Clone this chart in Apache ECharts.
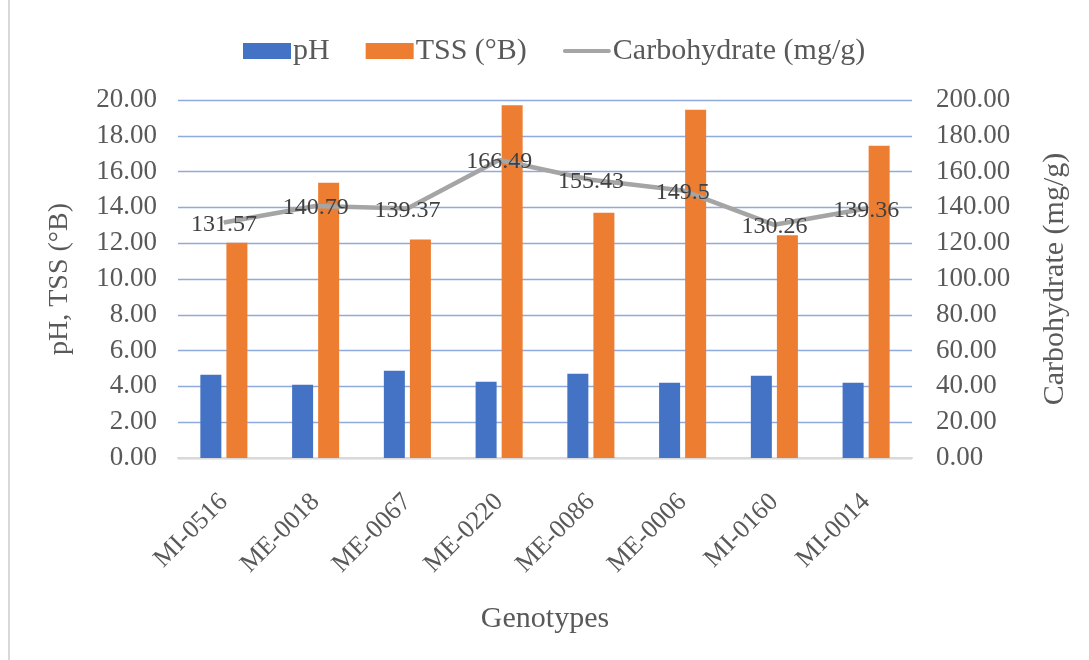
<!DOCTYPE html>
<html>
<head>
<meta charset="utf-8">
<script src="https://cdn.jsdelivr.net/npm/echarts@6/dist/echarts.min.js"></script>
<style>
  html, body { margin: 0; padding: 0; background: #fff; }
  #chart { width: 1089px; height: 660px; }
  .frame { position: absolute; left: 8px; top: 0; width: 2px; height: 660px; background: #d9d9d9; }
</style>
</head>
<body>
<div class="frame"></div>
<div id="chart"></div>
<script>
const genotypes = ['MI-0516', 'ME-0018', 'ME-0067', 'ME-0220', 'ME-0086', 'ME-0006', 'MI-0160', 'MI-0014']
const phValues = [4.65, 4.09, 4.88, 4.26, 4.71, 4.21, 4.60, 4.21]
const tssValues = [12.02, 15.38, 12.20, 19.70, 13.70, 19.46, 12.44, 17.45]
const carbValues = [131.57, 140.79, 139.37, 166.49, 155.43, 149.5, 130.26, 139.36]

const font = 'Liberation Serif, Times New Roman, serif'
const textColor = '#595959'

const chart = echarts.init(document.getElementById('chart'))
chart.setOption({
  textStyle: { fontFamily: font },
  legend: {
    top: 31,
    left: 238,
    itemWidth: 48,
    itemHeight: 16,
    itemGap: 36,
    textStyle: { fontFamily: font, fontSize: 30, color: textColor, padding: [0, 0, 0, -3] },
    data: [
      { name: 'pH', icon: 'rect' },
      { name: 'TSS (°B)', icon: 'rect' },
      { name: 'Carbohydrate (mg/g)', icon: 'path://M2,0 L46,0 A2,2 0 0 1 46,4 L2,4 A2,2 0 0 1 2,0 Z' }
    ]
  },
  grid: { left: 178, right: 177, top: 100, bottom: 202 },
  xAxis: {
    type: 'category',
    data: genotypes,
    name: 'Genotypes',
    nameLocation: 'middle',
    nameGap: 146,
    nameTextStyle: { fontFamily: font, fontSize: 30, color: textColor },
    axisLine: { lineStyle: { color: '#d9d9d9', width: 2 } },
    axisTick: { show: false },
    axisLabel: { rotate: 45, margin: 40, fontFamily: font, fontSize: 26, color: textColor }
  },
  yAxis: [
    {
      type: 'value',
      min: 0,
      max: 20,
      interval: 2,
      name: 'pH, TSS (°B)',
      nameLocation: 'middle',
      nameGap: 104,
      nameTextStyle: { fontFamily: font, fontSize: 28, color: textColor },
      axisLine: { show: false },
      axisTick: { show: false },
      axisLabel: { margin: 21, fontFamily: font, fontSize: 27, color: textColor, formatter: v => v.toFixed(2) },
      splitLine: { lineStyle: { color: '#8faadc', width: 1.3 } }
    },
    {
      type: 'value',
      min: 0,
      max: 200,
      interval: 20,
      name: 'Carbohydrate (mg/g)',
      nameLocation: 'middle',
      nameGap: 128,
      nameRotate: 90,
      nameTextStyle: { fontFamily: font, fontSize: 30, color: textColor },
      axisLine: { show: false },
      axisTick: { show: false },
      axisLabel: { margin: 24, fontFamily: font, fontSize: 27, color: textColor, formatter: v => v.toFixed(2) },
      splitLine: { show: false }
    }
  ],
  series: [
    {
      name: 'pH',
      type: 'bar',
      data: phValues,
      barWidth: 21,
      barGap: '24%',
      itemStyle: { color: '#4472c4' }
    },
    {
      name: 'TSS (°B)',
      type: 'bar',
      data: tssValues,
      barWidth: 21,
      barGap: '24%',
      itemStyle: { color: '#ed7d31' }
    },
    {
      name: 'Carbohydrate (mg/g)',
      type: 'line',
      yAxisIndex: 1,
      data: carbValues,
      symbol: 'circle',
      symbolSize: 1,
      itemStyle: { color: '#a5a5a5' },
      lineStyle: { color: '#a5a5a5', width: 4.5 },
      label: {
        show: true,
        position: 'inside',
        offset: [0, 2],
        fontFamily: font,
        fontSize: 24,
        color: '#404040'
      },
      z: 5
    }
  ]
})
</script>
</body>
</html>
